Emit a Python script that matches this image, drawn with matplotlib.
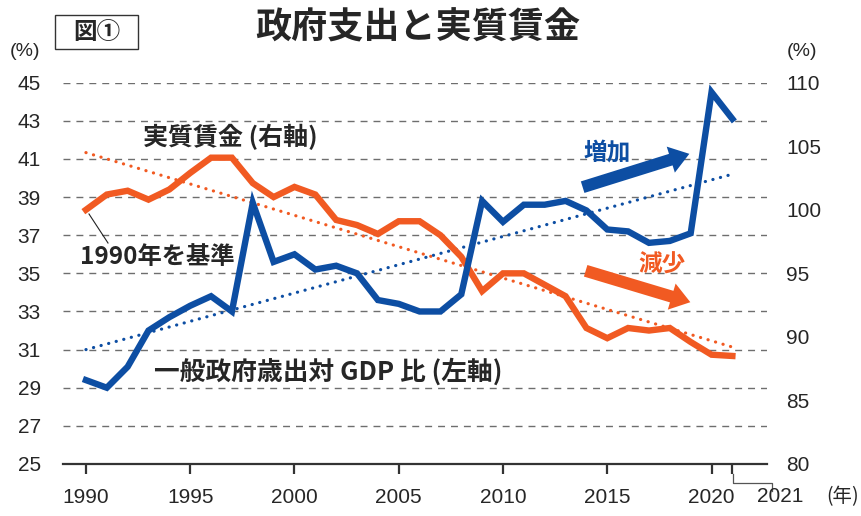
import matplotlib
matplotlib.use('Agg')
import matplotlib.pyplot as plt
from matplotlib.lines import Line2D
from matplotlib.patches import Rectangle, FancyArrowPatch

# data
years = list(range(1990, 2022))
# general government expenditure / GDP (%), left axis
spending = [29.4, 29.0, 30.1, 32.0, 32.7, 33.3, 33.8, 33.0, 38.7, 35.6,
            36.0, 35.2, 35.4, 35.0, 33.6, 33.4, 33.0, 33.0, 33.9, 38.8,
            37.7, 38.6, 38.6, 38.8, 38.3, 37.3, 37.2, 36.6, 36.7, 37.1,
            44.5, 43.1]
# real wage index (1990 = 100), right axis
wages = [100.0, 101.2, 101.5, 100.8, 101.6, 102.9, 104.1, 104.1, 102.1, 101.0,
         101.8, 101.2, 99.2, 98.8, 98.1, 99.1, 99.1, 98.0, 96.3, 93.6,
         95.0, 95.0, 94.1, 93.2, 90.7, 89.9, 90.7, 90.5, 90.7, 89.6,
         88.6, 88.5]
trend_years = [1990, 2021]
spending_trend = [31.0, 40.2]
wages_trend = [104.5, 89.2]

left_ticks = list(range(25, 46, 2))
right_ticks = list(range(80, 111, 5))
year_ticks = [1990, 1995, 2000, 2005, 2010, 2015, 2020, 2021]
year_labels = ['1990', '1995', '2000', '2005', '2010', '2015', '2020', '']

BLUE = '#0d4ea3'
ORANGE = '#f15a22'
DARK = '#262626'
W, H = 862, 516

num_font = ['Liberation Sans Narrow', 'Liberation Sans', 'DejaVu Sans']
jp_font = ['Noto Sans CJK JP', 'DejaVu Sans']


def px(x, y):
    # top-left pixel coords -> figure fraction
    return x / W, 1 - y / H


fig = plt.figure(figsize=(W / 100, H / 100), dpi=100)
ax = fig.add_axes([63 / W, 52 / H, 704 / W, 381.3 / H])
ax2 = ax.twinx()

ax.set_xlim(1988.9, 2022.66)
ax.set_ylim(25, 45)
ax2.set_ylim(80, 110)

ax.set_yticks(left_ticks)
ax2.set_yticks(right_ticks)
ax.set_xticks(year_ticks)
ax.set_xticklabels(year_labels)

ax.yaxis.grid(True, linestyle=(0, (5, 4.3)), color='#6e6e6e', lw=1.0)
ax.set_axisbelow(True)

for a in (ax, ax2):
    for s in ('left', 'right', 'top'):
        a.spines[s].set_visible(False)
ax2.spines['bottom'].set_visible(False)
ax.spines['bottom'].set_color('#333333')
ax.spines['bottom'].set_linewidth(1.6)

ax.tick_params(axis='y', length=0, pad=16, labelsize=15, labelcolor=DARK)
ax2.tick_params(axis='y', length=0, pad=14, labelsize=15, labelcolor=DARK)
ax.tick_params(axis='x', length=7, width=1.6, color='#333333', pad=10,
               labelsize=15, labelcolor=DARK)
for lab in ax.get_xticklabels() + ax.get_yticklabels() + ax2.get_yticklabels():
    lab.set_family(num_font)

# lines (all on ax2 so the blue line can sit above the orange one)
dots = (0, (0.05, 2.4))
ax2.plot(trend_years, wages_trend, color=ORANGE, lw=2.3, ls=dots,
         dash_capstyle='round', zorder=2)
ax2.plot(trend_years, spending_trend, color=BLUE, lw=2.3, ls=dots,
         dash_capstyle='round', transform=ax.transData, zorder=2)
ax2.plot(years, wages, color=ORANGE, lw=4.6, solid_joinstyle='miter', zorder=3)
ax2.plot(years, spending, color=BLUE, lw=4.6, solid_joinstyle='miter',
         transform=ax.transData, zorder=4)

# 2021 label with bracket and unit
fig.add_artist(Line2D([732.7 / W, 732.7 / W, 771.7 / W, 771.7 / W],
                      [1 - 474 / H, 1 - 483 / H, 1 - 483 / H, 1 - 491 / H],
                      color='#555555', lw=0.9))
fig.text(*px(780, 497), '2021', ha='center', va='center', fontsize=15,
         color=DARK, family=num_font)
fig.text(*px(859, 497), '(年)', ha='right', va='center', fontsize=14,
         color=DARK, family=jp_font)

# units
fig.text(*px(25, 51), '(%)', ha='center', va='center', fontsize=14,
         color=DARK, family=num_font)
fig.text(*px(802, 51), '(%)', ha='center', va='center', fontsize=14,
         color=DARK, family=num_font)

# title and figure tag
fig.add_artist(Rectangle(px(55, 49), 83 / W, 34 / H, fill=False,
                         ec='#333333', lw=1.0, transform=fig.transFigure))
fig.text(*px(97, 32), '図①', ha='center', va='center', fontsize=17,
         fontweight='bold', color=DARK, family=jp_font)
fig.text(*px(418, 28), '政府支出と実質賃金', ha='center', va='center',
         fontsize=26, fontweight='bold', color=DARK, family=jp_font)

# annotations
fig.text(*px(230, 137), '実質賃金 (右軸)', ha='center', va='center',
         fontsize=18, fontweight='bold', color=DARK, family=jp_font)
fig.text(*px(157, 257), '1990年を基準', ha='center', va='center',
         fontsize=17.5, fontweight='bold', color=DARK, family=jp_font)
fig.add_artist(Line2D([89 / W, 108 / W], [1 - 214 / H, 1 - 243 / H],
                      color='#222222', lw=0.8))
fig.text(*px(328, 372), '一般政府歳出対 GDP 比 (左軸)', ha='center',
         va='center', fontsize=18.5, fontweight='bold', color=DARK,
         family=jp_font)
fig.text(*px(607, 152), '増加', ha='center', va='center', fontsize=17,
         fontweight='bold', color=BLUE, family=jp_font)
fig.text(*px(662, 265), '減少', ha='center', va='center', fontsize=17,
         fontweight='bold', color=ORANGE, family=jp_font)

arrow_style = 'simple,head_length=1.0,head_width=1.4,tail_width=0.62'
fig.add_artist(FancyArrowPatch(
    px(580, 188), px(692, 153), transform=fig.transFigure,
    arrowstyle=arrow_style, mutation_scale=14, color=BLUE, lw=0))
fig.add_artist(FancyArrowPatch(
    px(583, 270), px(693, 303), transform=fig.transFigure,
    arrowstyle=arrow_style, mutation_scale=14, color=ORANGE, lw=0))

fig.savefig('out.png', dpi=100)
